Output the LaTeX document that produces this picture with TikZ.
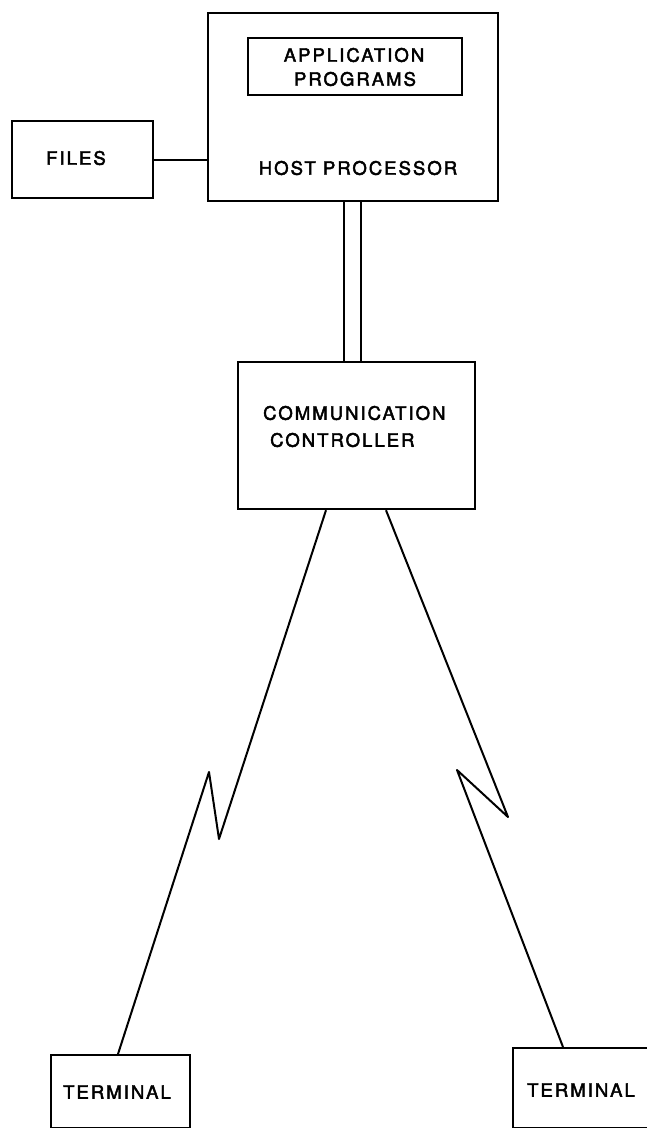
\documentclass[tikz,border=0pt]{standalone}
\usepackage{fontspec}
\setmainfont{TeX Gyre Heros}[LetterSpace=11,FakeBold=2.5]
\begin{document}
\begin{tikzpicture}[x=1pt,y=-1pt,
  box/.style={draw,line width=2.2pt,inner sep=0pt,anchor=north west},
  lbl/.style={font=\fontsize{18.5}{22}\selectfont,inner sep=0pt},
  wire/.style={line width=2pt,line join=round}]
\useasboundingbox (0,0) rectangle (647,1128);
\clip (0,0) rectangle (647,1128);
% boxes
\node[box,minimum width=290pt,minimum height=188pt] (host) at (207,12) {};
\node[box,minimum width=214pt,minimum height=57pt] (app) at (247,37) {};
\node[box,minimum width=141pt,minimum height=77pt] (files) at (11,120) {};
\node[box,minimum width=237pt,minimum height=147pt] (comm) at (237,361) {};
\node[box,minimum width=139pt,minimum height=73pt] (term1) at (50,1054) {};
\node[box,minimum width=150pt,minimum height=80pt] (term2) at (512,1047) {};
% labels
\node[lbl] (tapp) at (354,55) {APPLICATION};
\node[lbl] (tprog) at (355,79) {PROGRAMS};
\node[lbl] (thost) at (358,168) {HOST PROCESSOR};
\node[lbl] (tfiles) at (76,158) {FILES};
\node[lbl,anchor=west] (tcomm) at (263,413) {COMMUNICATION};
\node[lbl,anchor=west] (tctrl) at (270,440) {CONTROLLER};
\node[lbl] (tterm1) at (117,1092) {TERMINAL};
\node[lbl] (tterm2) at (581,1090) {TERMINAL};
% connectors
\draw[wire] (files.east) -- (host.west |- files.east);
\coordinate (d1) at (344,0);
\coordinate (d2) at (361,0);
\draw[wire] (host.south -| d1) -- (comm.north -| d1);
\draw[wire] (host.south -| d2) -- (comm.north -| d2);
\coordinate (l0) at (326,0);
\coordinate (l1) at (219,839);
\coordinate (l2) at (209,772);
\coordinate (l3) at (118,0);
\draw[wire] (comm.south -| l0) -- (l1) -- (l2) -- (term1.north -| l3);
\coordinate (r0) at (386,0);
\coordinate (r1) at (508,817);
\coordinate (r2) at (457,770);
\coordinate (r3) at (563,0);
\draw[wire] (comm.south -| r0) -- (r1) -- (r2) -- (term2.north -| r3);
\end{tikzpicture}
\end{document}
